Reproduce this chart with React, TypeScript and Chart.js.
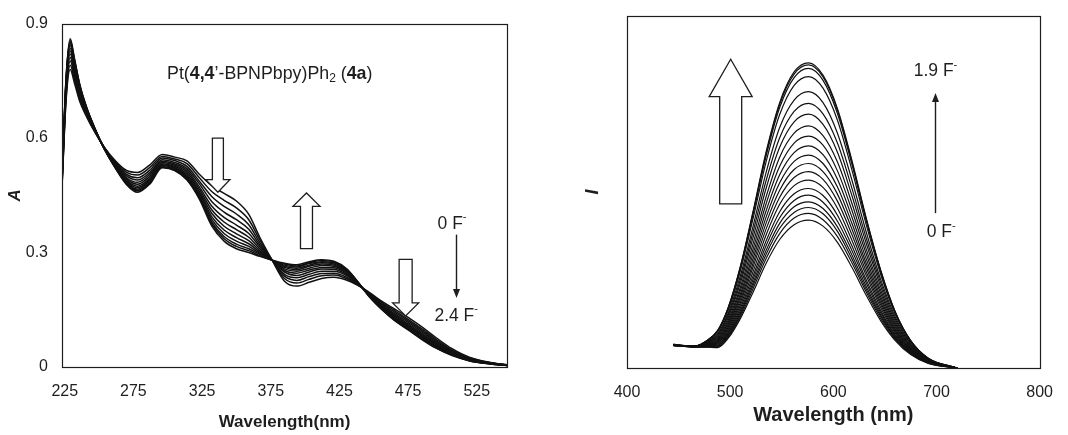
import React, { useEffect, useRef } from "react";
import { Chart, registerables } from "chart.js";

Chart.register(...registerables);

// ---------- Left panel: absorption titration ----------
const ABS_WAVELENGTHS = [223, 226, 229, 232, 236, 241, 247, 254, 262, 270, 278, 287, 296, 305, 314, 323, 332, 341, 350, 359, 367, 376, 385, 394, 403, 412, 421, 430, 438, 447, 456, 465, 475, 485, 495, 507, 520, 535, 547];
const ABS_X_TICKS = [225, 275, 325, 375, 425, 475, 525];
const ABS_Y_TICKS = [0, 0.3, 0.6, 0.9];

const ABS_0 = [0.47, 0.70, 0.78, 0.745, 0.695, 0.655, 0.615, 0.575, 0.54, 0.515, 0.51, 0.53, 0.557, 0.55, 0.54, 0.505, 0.475, 0.455, 0.435, 0.40, 0.34, 0.28, 0.225, 0.212, 0.222, 0.232, 0.235, 0.228, 0.215, 0.195, 0.172, 0.152, 0.130, 0.105, 0.078, 0.048, 0.025, 0.012, 0.006];
const ABS_1 = [0.474, 0.708, 0.791, 0.754, 0.701, 0.659, 0.616, 0.574, 0.537, 0.510, 0.503, 0.523, 0.552, 0.545, 0.533, 0.496, 0.460, 0.437, 0.417, 0.386, 0.333, 0.28, 0.232, 0.220, 0.230, 0.239, 0.241, 0.232, 0.216, 0.193, 0.169, 0.148, 0.125, 0.100, 0.074, 0.045, 0.024, 0.011, 0.006];
const ABS_2 = [0.478, 0.716, 0.802, 0.763, 0.707, 0.662, 0.618, 0.574, 0.535, 0.505, 0.496, 0.516, 0.548, 0.541, 0.526, 0.487, 0.447, 0.421, 0.401, 0.373, 0.326, 0.28, 0.238, 0.227, 0.237, 0.245, 0.246, 0.236, 0.218, 0.192, 0.166, 0.144, 0.121, 0.096, 0.070, 0.043, 0.023, 0.011, 0.005];
const ABS_3 = [0.482, 0.723, 0.811, 0.770, 0.713, 0.665, 0.619, 0.573, 0.532, 0.501, 0.490, 0.510, 0.543, 0.536, 0.520, 0.480, 0.434, 0.406, 0.386, 0.361, 0.320, 0.28, 0.243, 0.234, 0.243, 0.251, 0.251, 0.240, 0.219, 0.190, 0.163, 0.140, 0.117, 0.092, 0.067, 0.041, 0.021, 0.010, 0.005];
const ABS_4 = [0.485, 0.730, 0.820, 0.778, 0.718, 0.668, 0.620, 0.572, 0.530, 0.496, 0.484, 0.505, 0.539, 0.532, 0.515, 0.472, 0.422, 0.392, 0.372, 0.350, 0.315, 0.28, 0.249, 0.240, 0.249, 0.257, 0.256, 0.243, 0.220, 0.189, 0.161, 0.137, 0.113, 0.088, 0.064, 0.039, 0.020, 0.010, 0.005];
const ABS_5 = [0.488, 0.736, 0.828, 0.784, 0.722, 0.670, 0.621, 0.572, 0.528, 0.493, 0.479, 0.500, 0.536, 0.529, 0.510, 0.466, 0.412, 0.380, 0.360, 0.340, 0.310, 0.28, 0.253, 0.246, 0.254, 0.261, 0.260, 0.246, 0.221, 0.188, 0.159, 0.134, 0.110, 0.085, 0.061, 0.037, 0.020, 0.010, 0.005];
const ABS_6 = [0.491, 0.741, 0.835, 0.790, 0.726, 0.672, 0.622, 0.572, 0.526, 0.489, 0.474, 0.495, 0.533, 0.526, 0.505, 0.460, 0.403, 0.369, 0.349, 0.331, 0.305, 0.28, 0.257, 0.251, 0.259, 0.266, 0.264, 0.249, 0.222, 0.187, 0.157, 0.131, 0.107, 0.082, 0.059, 0.036, 0.019, 0.009, 0.005];
const ABS_7 = [0.493, 0.746, 0.842, 0.795, 0.730, 0.674, 0.623, 0.571, 0.525, 0.487, 0.470, 0.491, 0.530, 0.523, 0.501, 0.455, 0.394, 0.359, 0.339, 0.323, 0.301, 0.28, 0.261, 0.255, 0.264, 0.270, 0.267, 0.251, 0.223, 0.186, 0.155, 0.129, 0.105, 0.080, 0.056, 0.034, 0.018, 0.009, 0.004];
const ABS_8 = [0.495, 0.750, 0.847, 0.800, 0.733, 0.676, 0.623, 0.571, 0.523, 0.484, 0.466, 0.488, 0.528, 0.521, 0.498, 0.450, 0.387, 0.350, 0.330, 0.316, 0.298, 0.28, 0.264, 0.259, 0.267, 0.273, 0.270, 0.253, 0.223, 0.185, 0.154, 0.127, 0.102, 0.077, 0.054, 0.033, 0.017, 0.009, 0.004];
const ABS_9 = [0.497, 0.754, 0.852, 0.804, 0.736, 0.678, 0.624, 0.570, 0.522, 0.482, 0.463, 0.485, 0.525, 0.518, 0.495, 0.446, 0.380, 0.342, 0.322, 0.310, 0.295, 0.28, 0.267, 0.262, 0.271, 0.276, 0.273, 0.255, 0.224, 0.184, 0.152, 0.125, 0.100, 0.075, 0.053, 0.032, 0.017, 0.008, 0.004];
const ABS_10 = [0.499, 0.757, 0.856, 0.807, 0.738, 0.679, 0.625, 0.570, 0.521, 0.480, 0.461, 0.482, 0.524, 0.517, 0.492, 0.443, 0.375, 0.336, 0.316, 0.305, 0.292, 0.28, 0.270, 0.265, 0.273, 0.279, 0.275, 0.257, 0.225, 0.184, 0.151, 0.123, 0.099, 0.074, 0.051, 0.031, 0.016, 0.008, 0.004];
const ABS_11 = [0.50, 0.76, 0.86, 0.81, 0.74, 0.68, 0.625, 0.57, 0.52, 0.478, 0.458, 0.48, 0.522, 0.515, 0.49, 0.44, 0.37, 0.33, 0.31, 0.30, 0.29, 0.28, 0.272, 0.268, 0.276, 0.281, 0.277, 0.258, 0.225, 0.183, 0.150, 0.122, 0.097, 0.072, 0.050, 0.030, 0.016, 0.008, 0.004];
const ABS_SERIES = [ABS_0, ABS_1, ABS_2, ABS_3, ABS_4, ABS_5, ABS_6, ABS_7, ABS_8, ABS_9, ABS_10, ABS_11];

// ---------- Right panel: emission titration ----------
const EM_WAVELENGTHS = [445, 465, 478, 488, 498, 510, 522, 535, 548, 562, 576, 590, 604, 618, 632, 646, 660, 675, 692, 720];
const EM_X_TICKS = [400, 500, 600, 700, 800];

const EM_00 = [0.066, 0.060, 0.059, 0.058, 0.084, 0.141, 0.214, 0.298, 0.365, 0.407, 0.420, 0.403, 0.357, 0.286, 0.206, 0.134, 0.078, 0.038, 0.013, 0];
const EM_01 = [0.064, 0.060, 0.060, 0.060, 0.088, 0.147, 0.224, 0.312, 0.382, 0.426, 0.439, 0.421, 0.373, 0.299, 0.215, 0.140, 0.081, 0.040, 0.014, 0];
const EM_02 = [0.067, 0.060, 0.061, 0.062, 0.091, 0.153, 0.233, 0.324, 0.397, 0.442, 0.456, 0.438, 0.388, 0.310, 0.223, 0.146, 0.084, 0.041, 0.015, 0];
const EM_03 = [0.063, 0.060, 0.061, 0.064, 0.094, 0.158, 0.241, 0.335, 0.411, 0.458, 0.472, 0.453, 0.401, 0.321, 0.231, 0.151, 0.087, 0.042, 0.015, 0];
const EM_04 = [0.065, 0.060, 0.062, 0.066, 0.098, 0.164, 0.250, 0.349, 0.427, 0.476, 0.491, 0.471, 0.417, 0.334, 0.241, 0.157, 0.091, 0.044, 0.016, 0];
const EM_05 = [0.066, 0.061, 0.063, 0.068, 0.101, 0.171, 0.260, 0.362, 0.444, 0.495, 0.510, 0.490, 0.434, 0.347, 0.250, 0.163, 0.094, 0.046, 0.016, 0];
const EM_06 = [0.064, 0.061, 0.064, 0.071, 0.106, 0.179, 0.272, 0.379, 0.465, 0.518, 0.534, 0.513, 0.454, 0.363, 0.262, 0.171, 0.099, 0.048, 0.017, 0];
const EM_07 = [0.065, 0.061, 0.065, 0.073, 0.111, 0.187, 0.285, 0.396, 0.485, 0.541, 0.558, 0.536, 0.474, 0.379, 0.273, 0.179, 0.103, 0.050, 0.018, 0];
const EM_08 = [0.067, 0.061, 0.066, 0.076, 0.115, 0.195, 0.296, 0.413, 0.505, 0.564, 0.581, 0.558, 0.494, 0.395, 0.285, 0.186, 0.107, 0.052, 0.019, 0];
const EM_09 = [0.065, 0.061, 0.067, 0.079, 0.120, 0.203, 0.309, 0.430, 0.526, 0.587, 0.605, 0.581, 0.514, 0.411, 0.296, 0.194, 0.112, 0.054, 0.019, 0];
const EM_10 = [0.064, 0.061, 0.068, 0.081, 0.125, 0.211, 0.322, 0.448, 0.549, 0.612, 0.631, 0.606, 0.536, 0.429, 0.309, 0.202, 0.117, 0.057, 0.020, 0];
const EM_11 = [0.066, 0.061, 0.070, 0.084, 0.130, 0.221, 0.336, 0.468, 0.573, 0.639, 0.659, 0.633, 0.560, 0.448, 0.323, 0.211, 0.122, 0.059, 0.021, 0];
const EM_12 = [0.065, 0.061, 0.071, 0.088, 0.136, 0.230, 0.351, 0.488, 0.599, 0.667, 0.688, 0.660, 0.585, 0.468, 0.337, 0.220, 0.127, 0.062, 0.022, 0];
const EM_13 = [0.064, 0.062, 0.072, 0.091, 0.143, 0.242, 0.368, 0.512, 0.627, 0.699, 0.721, 0.692, 0.613, 0.490, 0.353, 0.231, 0.133, 0.065, 0.023, 0];
const EM_14 = [0.066, 0.062, 0.074, 0.095, 0.149, 0.252, 0.384, 0.534, 0.654, 0.729, 0.752, 0.722, 0.639, 0.511, 0.368, 0.241, 0.139, 0.068, 0.024, 0];
const EM_15 = [0.065, 0.062, 0.075, 0.098, 0.155, 0.263, 0.400, 0.557, 0.683, 0.761, 0.785, 0.754, 0.667, 0.534, 0.385, 0.251, 0.145, 0.071, 0.025, 0];
const EM_16 = [0.067, 0.062, 0.077, 0.103, 0.163, 0.277, 0.422, 0.588, 0.720, 0.803, 0.828, 0.795, 0.704, 0.563, 0.406, 0.265, 0.153, 0.075, 0.026, 0];
const EM_17 = [0.065, 0.062, 0.078, 0.106, 0.168, 0.285, 0.434, 0.604, 0.740, 0.825, 0.851, 0.817, 0.723, 0.579, 0.417, 0.272, 0.157, 0.077, 0.027, 0];
const EM_18 = [0.064, 0.062, 0.079, 0.107, 0.170, 0.288, 0.439, 0.611, 0.749, 0.835, 0.861, 0.827, 0.732, 0.585, 0.422, 0.276, 0.159, 0.077, 0.028, 0];
const EM_19 = [0.066, 0.062, 0.079, 0.107, 0.171, 0.290, 0.442, 0.616, 0.754, 0.841, 0.867, 0.832, 0.737, 0.590, 0.425, 0.277, 0.160, 0.078, 0.028, 0];
const EM_SERIES = [EM_00, EM_01, EM_02, EM_03, EM_04, EM_05, EM_06, EM_07, EM_08, EM_09, EM_10, EM_11, EM_12, EM_13, EM_14, EM_15, EM_16, EM_17, EM_18, EM_19];

// ---------- styling helpers ----------
const FONT = '"Liberation Sans", Arial, Helvetica, sans-serif';
const INK = "#1e1e1e";

function cssFont(size: number, weight = "normal", style = "normal") {
  return `${style} ${weight} ${size}px ${FONT}`;
}

type Part = { t: string; size: number; bold?: boolean; dy?: number };

function drawParts(ctx: CanvasRenderingContext2D, parts: Part[], x: number, y: number, align: "left" | "center") {
  ctx.save();
  ctx.textBaseline = "middle";
  ctx.textAlign = "left";
  ctx.fillStyle = INK;
  let total = 0;
  for (const p of parts) {
    ctx.font = cssFont(p.size, p.bold ? "bold" : "normal");
    total += ctx.measureText(p.t).width;
  }
  let cx = align === "center" ? x - total / 2 : x;
  for (const p of parts) {
    ctx.font = cssFont(p.size, p.bold ? "bold" : "normal");
    ctx.fillText(p.t, cx, y + (p.dy || 0));
    cx += ctx.measureText(p.t).width;
  }
  ctx.restore();
}

function hollowArrow(ctx: CanvasRenderingContext2D, cx: number, yTail: number, yHeadBase: number, yTip: number, shaftHalf: number, headHalf: number) {
  ctx.save();
  ctx.beginPath();
  ctx.moveTo(cx - shaftHalf, yTail);
  ctx.lineTo(cx + shaftHalf, yTail);
  ctx.lineTo(cx + shaftHalf, yHeadBase);
  ctx.lineTo(cx + headHalf, yHeadBase);
  ctx.lineTo(cx, yTip);
  ctx.lineTo(cx - headHalf, yHeadBase);
  ctx.lineTo(cx - shaftHalf, yHeadBase);
  ctx.closePath();
  ctx.fillStyle = "#fff";
  ctx.fill();
  ctx.strokeStyle = INK;
  ctx.lineWidth = 1.3;
  ctx.stroke();
  ctx.restore();
}

function thinArrow(ctx: CanvasRenderingContext2D, x: number, yFrom: number, yTo: number) {
  const dir = yTo > yFrom ? 1 : -1;
  ctx.save();
  ctx.strokeStyle = INK;
  ctx.fillStyle = INK;
  ctx.lineWidth = 1.4;
  ctx.beginPath();
  ctx.moveTo(x, yFrom);
  ctx.lineTo(x, yTo - dir * 7);
  ctx.stroke();
  ctx.beginPath();
  ctx.moveTo(x, yTo);
  ctx.lineTo(x - 3.5, yTo - dir * 9);
  ctx.lineTo(x + 3.5, yTo - dir * 9);
  ctx.closePath();
  ctx.fill();
  ctx.restore();
}

function drawBox(chart: any) {
  const { ctx, chartArea: a } = chart;
  ctx.save();
  ctx.strokeStyle = INK;
  ctx.lineWidth = 1.2;
  ctx.strokeRect(Math.round(a.left) + 0.5, Math.round(a.top) + 0.5, Math.round(a.right - a.left), Math.round(a.bottom - a.top));
  ctx.restore();
}

const fMinus = (label: string, size: number): Part[] => [
  { t: label, size },
  { t: "-", size: Math.round(size * 0.6), dy: -size * 0.38 },
];

const absAnnotations = {
  id: "absAnnotations",
  afterDraw(chart: any) {
    const { ctx } = chart;
    const x = chart.scales.x;
    const y = chart.scales.y;
    drawBox(chart);
    // compound name
    drawParts(ctx, [
      { t: "Pt(", size: 17.8 },
      { t: "4,4", size: 17.8, bold: true },
      { t: "\u2019-BPNPbpy)Ph", size: 17.8 },
      { t: "2", size: 12, dy: 4.5 },
      { t: " (", size: 17.8 },
      { t: "4a", size: 17.8, bold: true },
      { t: ")", size: 17.8 },
    ], x.getPixelForValue(299.5), y.getPixelForValue(0.768), "left");
    // hollow arrows
    hollowArrow(ctx, x.getPixelForValue(336.5), y.getPixelForValue(0.6), y.getPixelForValue(0.491), y.getPixelForValue(0.458), 5.5, 12);
    hollowArrow(ctx, x.getPixelForValue(401), y.getPixelForValue(0.31), y.getPixelForValue(0.421), y.getPixelForValue(0.456), 6, 13.5);
    hollowArrow(ctx, x.getPixelForValue(473.2), y.getPixelForValue(0.282), y.getPixelForValue(0.168), y.getPixelForValue(0.134), 6.5, 13);
    // titration labels
    drawParts(ctx, fMinus("0 F", 17.5), x.getPixelForValue(507), y.getPixelForValue(0.375), "center");
    thinArrow(ctx, Math.round(x.getPixelForValue(510)) + 0.5, y.getPixelForValue(0.347), y.getPixelForValue(0.181));
    drawParts(ctx, fMinus("2.4 F", 17.5), x.getPixelForValue(510), y.getPixelForValue(0.134), "center");
  },
};

const emAnnotations = {
  id: "emAnnotations",
  afterDraw(chart: any) {
    const { ctx } = chart;
    const x = chart.scales.x;
    const y = chart.scales.y;
    drawBox(chart);
    hollowArrow(ctx, x.getPixelForValue(500.5), y.getPixelForValue(0.466), y.getPixelForValue(0.771), y.getPixelForValue(0.877), 11, 21.5);
    drawParts(ctx, fMinus("1.9 F", 17.5), x.getPixelForValue(699), y.getPixelForValue(0.842), "center");
    thinArrow(ctx, Math.round(x.getPixelForValue(698.8)) + 0.5, y.getPixelForValue(0.44), y.getPixelForValue(0.781));
    drawParts(ctx, fMinus("0 F", 17.5), x.getPixelForValue(704.5), y.getPixelForValue(0.386), "center");
  },
};

function makeDatasets(xs: number[], series: number[][], width: number) {
  return series.map((vals, i) => ({
    label: `s${i}`,
    data: vals.map((v, j) => ({ x: xs[j], y: v })),
    borderColor: "#111",
    borderWidth: width,
    pointRadius: 0,
    fill: false,
    cubicInterpolationMode: "monotone" as const,
  }));
}

export default function App() {
  const leftRef = useRef<HTMLCanvasElement | null>(null);
  const rightRef = useRef<HTMLCanvasElement | null>(null);

  useEffect(() => {
    const left = new Chart(leftRef.current as HTMLCanvasElement, {
      type: "line",
      data: { datasets: makeDatasets(ABS_WAVELENGTHS, ABS_SERIES, 1.5) as any },
      options: {
        responsive: false,
        animation: false,
        events: [],
        layout: { padding: { left: 0, top: 19, right: 33, bottom: 0 } },
        plugins: { legend: { display: false }, tooltip: { enabled: false } },
        scales: {
          x: {
            type: "linear",
            min: 223,
            max: 547,
            afterBuildTicks: (s: any) => { s.ticks = ABS_X_TICKS.map((v) => ({ value: v })); },
            afterFit: (s: any) => { s.height = 68; },
            grid: { display: false, drawTicks: false },
            border: { display: false },
            ticks: { color: INK, font: { family: FONT, size: 16 }, padding: 15, maxRotation: 0, autoSkip: false, callback: (v: any) => String(v) },
            title: { display: true, text: "Wavelength(nm)", color: INK, font: { family: FONT, size: 17, weight: "bold" }, padding: { top: 0, bottom: 2 } },
          },
          y: {
            type: "linear",
            min: 0,
            max: 0.9,
            afterBuildTicks: (s: any) => { s.ticks = ABS_Y_TICKS.map((v) => ({ value: v })); },
            afterFit: (s: any) => { s.width = 62; },
            grid: { display: false, drawTicks: false },
            border: { display: false },
            ticks: { color: INK, font: { family: FONT, size: 16 }, padding: 14, callback: (v: any) => String(v) },
            title: { display: true, text: "A", color: INK, font: { family: FONT, size: 17, weight: "bold", style: "italic" }, padding: { top: 5, bottom: 0 } },
          },
        },
      },
      plugins: [absAnnotations],
    });

    const right = new Chart(rightRef.current as HTMLCanvasElement, {
      type: "line",
      data: { datasets: makeDatasets(EM_WAVELENGTHS, EM_SERIES, 1.2) as any },
      options: {
        responsive: false,
        animation: false,
        events: [],
        layout: { padding: { left: 0, top: 16, right: 14, bottom: 0 } },
        plugins: { legend: { display: false }, tooltip: { enabled: false } },
        scales: {
          x: {
            type: "linear",
            min: 400,
            max: 800,
            afterBuildTicks: (s: any) => { s.ticks = EM_X_TICKS.map((v) => ({ value: v })); },
            afterFit: (s: any) => { s.height = 67; },
            grid: { display: false, drawTicks: false },
            border: { display: false },
            ticks: { color: INK, font: { family: FONT, size: 16 }, padding: 15, maxRotation: 0, autoSkip: false, callback: (v: any) => String(v) },
            title: { display: true, text: "Wavelength (nm)", color: INK, font: { family: FONT, size: 20, weight: "bold" }, padding: { top: 0, bottom: 8 } },
          },
          y: {
            type: "linear",
            min: 0,
            max: 1,
            afterFit: (s: any) => { s.width = 87; },
            grid: { display: false, drawTicks: false },
            border: { display: false },
            ticks: { display: false },
            title: { display: true, text: "I", color: INK, font: { family: FONT, size: 18, weight: "bold", style: "italic" }, padding: { top: 42, bottom: 0 } },
          },
        },
      },
      plugins: [emAnnotations],
    });

    return () => {
      left.destroy();
      right.destroy();
    };
  }, []);

  return (
    <div style={{ position: "absolute", left: 0, top: 0, width: 1068, height: 435, background: "#fff", overflow: "hidden" }}>
      <canvas ref={leftRef} width={540} height={435} style={{ position: "absolute", left: 0, top: 0, display: "block" }} />
      <canvas ref={rightRef} width={528} height={435} style={{ position: "absolute", left: 540, top: 0, display: "block" }} />
    </div>
  );
}
